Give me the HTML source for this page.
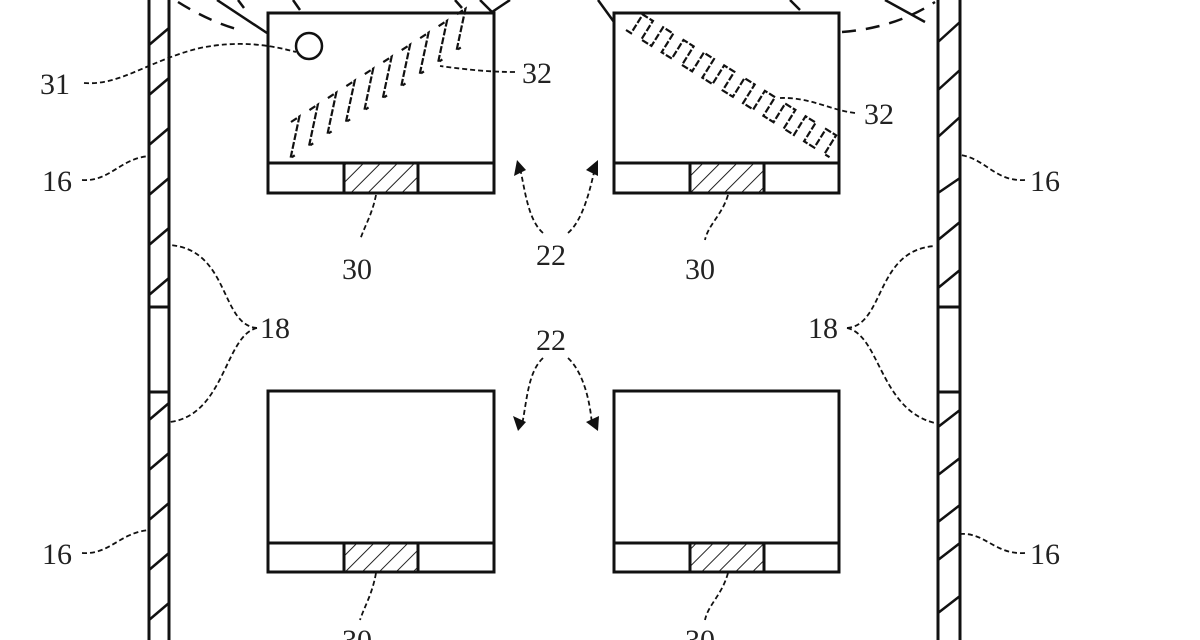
<!DOCTYPE html>
<html><head><meta charset="utf-8"><style>
html,body{margin:0;padding:0;background:#fff;width:1200px;height:640px;overflow:hidden}
svg text{font-family:"Liberation Serif",serif;font-size:30px;fill:#222}
</style></head><body>
<svg width="1200" height="640" viewBox="0 0 1200 640" xmlns="http://www.w3.org/2000/svg">
<defs>
<pattern id="hb" width="12" height="12" patternUnits="userSpaceOnUse" patternTransform="rotate(45)">
<line x1="0" y1="0" x2="0" y2="12" stroke="#222" stroke-width="2"/></pattern>
</defs>
<g fill="none" stroke="#111" stroke-width="3">
<rect x="149" y="-5" width="20" height="650"/>
<rect x="938" y="-5" width="22" height="650"/>
<line x1="149" y1="307" x2="169" y2="307"/><line x1="149" y1="392" x2="169" y2="392"/>
<line x1="938" y1="307" x2="960" y2="307"/><line x1="938" y1="392" x2="960" y2="392"/>
</g>
<g stroke="#111" stroke-width="2.5">
<line x1="149" y1="45" x2="169" y2="28"/><line x1="149" y1="95" x2="169" y2="78"/><line x1="149" y1="145" x2="169" y2="128"/><line x1="149" y1="195" x2="169" y2="178"/><line x1="149" y1="245" x2="169" y2="228"/><line x1="149" y1="295" x2="169" y2="278"/>
<line x1="149" y1="420" x2="169" y2="403"/><line x1="149" y1="470" x2="169" y2="453"/><line x1="149" y1="520" x2="169" y2="503"/><line x1="149" y1="570" x2="169" y2="553"/><line x1="149" y1="620" x2="169" y2="603"/>
<line x1="938" y1="42" x2="960" y2="22"/><line x1="938" y1="90" x2="960" y2="70"/><line x1="938" y1="137" x2="960" y2="117"/><line x1="938" y1="193" x2="960" y2="178"/><line x1="938" y1="240" x2="960" y2="222"/><line x1="938" y1="288" x2="960" y2="270"/>
<line x1="938" y1="427" x2="960" y2="410"/><line x1="938" y1="475" x2="960" y2="458"/><line x1="938" y1="522" x2="960" y2="505"/><line x1="938" y1="560" x2="960" y2="543"/><line x1="938" y1="613" x2="960" y2="596"/>
</g>
<g fill="none" stroke="#111" stroke-width="2.5" stroke-dasharray="14,10">
<path d="M178 2 Q210 22 240 30"/>
<path d="M842 32 Q895 28 935 2"/>
</g>
<g stroke="#111" stroke-width="2.5" fill="none">
<line x1="217" y1="0" x2="267" y2="33"/>
<line x1="238" y1="0" x2="244" y2="8"/><line x1="293" y1="0" x2="300" y2="10"/>
<line x1="455" y1="0" x2="462" y2="8"/>
<polyline points="480,0 492,12 510,0"/>
<line x1="598" y1="0" x2="614" y2="22"/>
<line x1="790" y1="0" x2="800" y2="10"/><line x1="885" y1="0" x2="925" y2="22"/>
</g>
<g fill="none" stroke="#111" stroke-width="3">
<rect x="268" y="13" width="226" height="180"/><line x1="268" y1="163" x2="494" y2="163"/>
<rect x="614" y="13" width="225" height="180"/><line x1="614" y1="163" x2="839" y2="163"/>
<rect x="268" y="391" width="226" height="181"/><line x1="268" y1="543" x2="494" y2="543"/>
<rect x="614" y="391" width="225" height="181"/><line x1="614" y1="543" x2="839" y2="543"/>
</g>
<g stroke="#111" stroke-width="3" fill="url(#hb)">
<rect x="344" y="163" width="74" height="30"/>
<rect x="690" y="163" width="74" height="30"/>
<rect x="344" y="543" width="74" height="29"/>
<rect x="690" y="543" width="74" height="29"/>
</g>
<circle cx="309" cy="46" r="13" fill="none" stroke="#111" stroke-width="2.5"/>
<g transform="translate(291,122) rotate(-33)" fill="none" stroke="#111" stroke-width="2.2" stroke-dasharray="7,2">
<path d="M0,0 h10 l-30,30 h5 M22,0 h10 l-30,30 h5 M44,0 h10 l-30,30 h5 M66,0 h10 l-30,30 h5 M88,0 h10 l-30,30 h5 M110,0 h10 l-30,30 h5 M132,0 h10 l-30,30 h5 M154,0 h10 l-30,30 h5 M176,0 h10 l-30,30 h5 M198,0 h10 l-30,30 h5"/>
</g>
<g transform="translate(626,30) rotate(32)" fill="none" stroke="#111" stroke-width="2.2" stroke-dasharray="7,2">
<path d="M0,0 h6 v-22 h12 v22 h12 v-22 h12 v22 h12 v-22 h12 v22 h12 v-22 h12 v22 h12 v-22 h12 v22 h12 v-22 h12 v22 h12 v-22 h12 v22 h12 v-22 h12 v22 h12 v-22 h12 v22 h12 v-22 h12 v22 h6"/>
</g>
<g fill="none" stroke="#111" stroke-width="1.8" stroke-dasharray="5,3">
<path d="M84 83 C120 86 150 60 200 48 C240 40 270 45 296 52"/>
<path d="M515 72 C490 72 470 70 440 66"/>
<path d="M855 113 C830 110 810 97 780 98"/>
<path d="M82 180 C110 182 120 158 150 156"/>
<path d="M1025 180 C995 182 985 158 960 155"/>
<path d="M82 553 C110 555 120 532 150 530"/>
<path d="M1025 553 C995 555 985 532 960 534"/>
<path d="M257 328 C220 325 230 250 170 245"/>
<path d="M257 328 C225 335 225 415 170 422"/>
<path d="M847 328 C885 325 875 250 935 246"/>
<path d="M847 328 C880 335 880 410 935 423"/>
<path d="M376 195 C372 215 365 225 360 240"/>
<path d="M728 195 C722 215 708 225 705 240"/>
<path d="M376 573 C372 595 365 605 360 620"/>
<path d="M728 573 C722 595 708 605 705 620"/>
<path d="M543 233 C528 220 525 190 520 168"/>
<path d="M568 233 C583 220 590 190 595 168"/>
<path d="M543 358 C528 372 527 400 522 425"/>
<path d="M568 358 C583 372 590 400 592 425"/>
</g>
<g fill="#111">
<polygon points="517,160 514,176 526,170"/>
<polygon points="598,160 586,170 598,176"/>
<polygon points="518,431 513,416 526,422"/>
<polygon points="598,431 586,422 599,416"/>
</g>
<text x="40" y="94">31</text>
<text x="522" y="83">32</text>
<text x="864" y="124">32</text>
<text x="42" y="191">16</text>
<text x="1030" y="191">16</text>
<text x="42" y="564">16</text>
<text x="1030" y="564">16</text>
<text x="260" y="338">18</text>
<text x="808" y="338">18</text>
<text x="536" y="265">22</text>
<text x="536" y="350">22</text>
<text x="342" y="279">30</text>
<text x="685" y="279">30</text>
<text x="342" y="650">30</text>
<text x="685" y="650">30</text>
</svg>
</body></html>
